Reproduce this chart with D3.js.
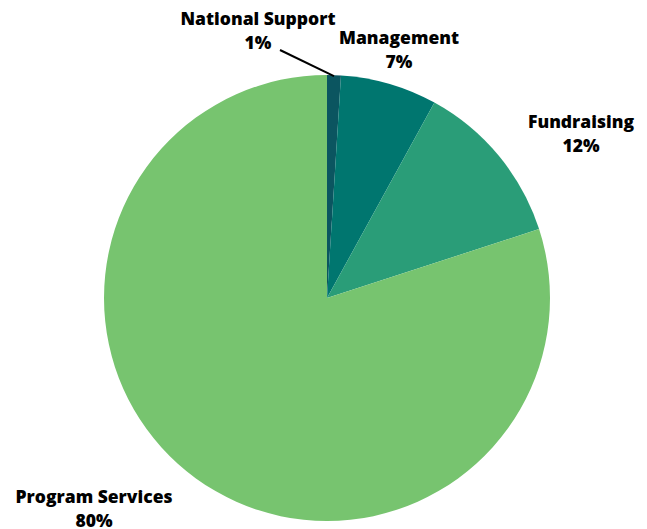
<!DOCTYPE html>
<html><head><meta charset="utf-8">
<script src="https://cdn.jsdelivr.net/npm/d3@7"></script>
<style>body{margin:0;background:#fff;} text{font-family:"Open Sans",sans-serif;font-weight:800;font-size:17.5px;fill:#000;}</style>
</head><body>
<svg id="c" width="647" height="529"></svg>
<script>
const categories = ["National Support","Management","Fundraising","Program Services"];
const values = [1,7,12,80];
const colors = ["#0b5560","#00766f","#2a9d78","#77c46f"];
const labelPos = [[258,25],[399,44],[581,128],[94,503]];

const svg = d3.select("#c");
const cx = 327, cy = 298, r = 223;
const pie = d3.pie().sort(null).value(d=>d.v);
const arcs = pie(categories.map((c,i)=>({c, v: values[i], col: colors[i]})));
const arc = d3.arc().innerRadius(0).outerRadius(r);
const g = svg.append("g").attr("transform",`translate(${cx},${cy})`);
g.selectAll("path").data(arcs).enter().append("path")
  .attr("d",arc).attr("fill",d=>d.data.col);

// leader line for National Support
const a0 = arcs[0], mid = (a0.startAngle+a0.endAngle)/2;
svg.append("line").attr("x1",280).attr("y1",50)
  .attr("x2",cx+Math.sin(mid)*(r-1)).attr("y2",cy-Math.cos(mid)*(r-1))
  .attr("stroke","#000").attr("stroke-width",2);

arcs.forEach((d,i)=>{
  const t = svg.append("text").attr("text-anchor","middle")
    .attr("x",labelPos[i][0]).attr("y",labelPos[i][1]);
  t.append("tspan").attr("x",labelPos[i][0]).text(d.data.c);
  t.append("tspan").attr("x",labelPos[i][0]).attr("dy",23.5).text(d.data.v+"%");
});
</script>
</body></html>
